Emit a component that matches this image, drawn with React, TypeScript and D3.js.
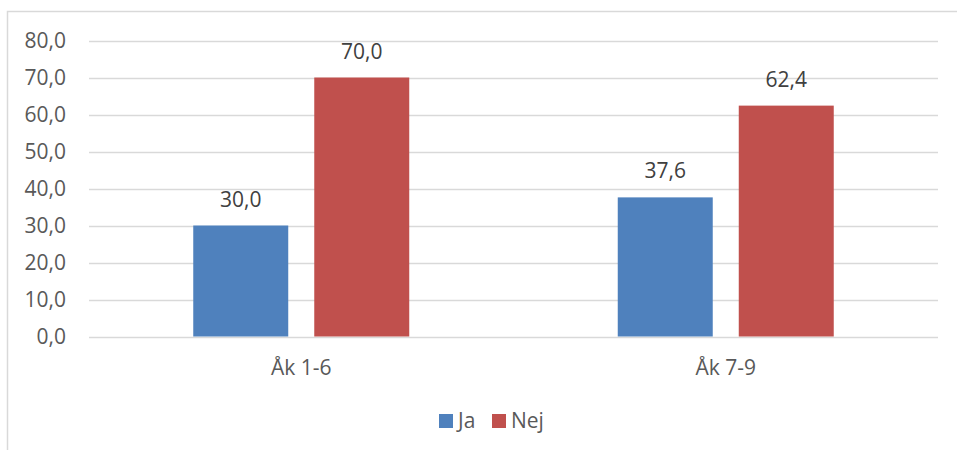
import React from "react";
import * as d3 from "d3";

const categories = ["Åk 1-6", "Åk 7-9"];
const seriesNames = ["Ja", "Nej"];
const jaValues = [30.0, 37.6];
const nejValues = [70.0, 62.4];
const yTicks = [0, 10, 20, 30, 40, 50, 60, 70, 80];
const colors = ["#4F81BD", "#C0504D"];

const W = 957;
const H = 450;
const FONT = "'Open Sans', 'Liberation Sans', sans-serif";

export default function App() {
  const seriesValues = [jaValues, nejValues];
  const plotLeft = 89;
  const plotRight = 938;
  const x0 = d3.scaleBand<string>().domain(categories).range([plotLeft, plotRight]).padding(0);
  const x1 = d3
    .scaleBand<string>()
    .domain(seriesNames)
    .range([0, x0.bandwidth()])
    .paddingInner(0.215)
    .paddingOuter(0.8615);
  const y = d3.scaleLinear().domain([0, 80]).range([336.5, 40.5]);
  const fmt = (v: number) => v.toFixed(1).replace(".", ",");

  const legendItems = [
    { name: "Ja", sq: 439, tx: 458 },
    { name: "Nej", sq: 492, tx: 511 },
  ];

  return (
    <svg
      width={W}
      height={H}
      style={{ position: "absolute", left: 0, top: 0, background: "#fff" }}
      fontFamily={FONT}
    >
      <rect x={7.5} y={11.5} width={W + 10} height={H + 10} fill="#fff" stroke="#D9D9D9" strokeWidth={1.5} />
      {yTicks.map((t) => (
        <g key={t}>
          <line x1={plotLeft} x2={plotRight} y1={Math.round(y(t)) + 0.5} y2={Math.round(y(t)) + 0.5} stroke="#D9D9D9" strokeWidth={1.5} />
          <text x={66} y={y(t)} dy="0.36em" textAnchor="end" fontSize={21} fill="#595959">
            {fmt(t)}
          </text>
        </g>
      ))}
      {categories.map((c, ci) => (
        <g key={c}>
          {seriesNames.map((s, si) => {
            const v = seriesValues[si][ci];
            const bx = (x0(c) ?? 0) + (x1(s) ?? 0);
            return (
              <g key={s}>
                <rect x={bx} y={y(v)} width={x1.bandwidth()} height={y(0) - y(v)} fill={colors[si]} />
                <text x={bx + x1.bandwidth() / 2} y={y(v) - 19} textAnchor="middle" fontSize={21} fill="#404040">
                  {fmt(v)}
                </text>
              </g>
            );
          })}
          <text x={(x0(c) ?? 0) + x0.bandwidth() / 2} y={375} textAnchor="middle" fontSize={21} fill="#595959">
            {c}
          </text>
        </g>
      ))}
      {legendItems.map((l, i) => (
        <g key={l.name}>
          <rect x={l.sq} y={414} width={14} height={14} fill={colors[i]} />
          <text x={l.tx} y={428} fontSize={21} fill="#595959">
            {l.name}
          </text>
        </g>
      ))}
    </svg>
  );
}
